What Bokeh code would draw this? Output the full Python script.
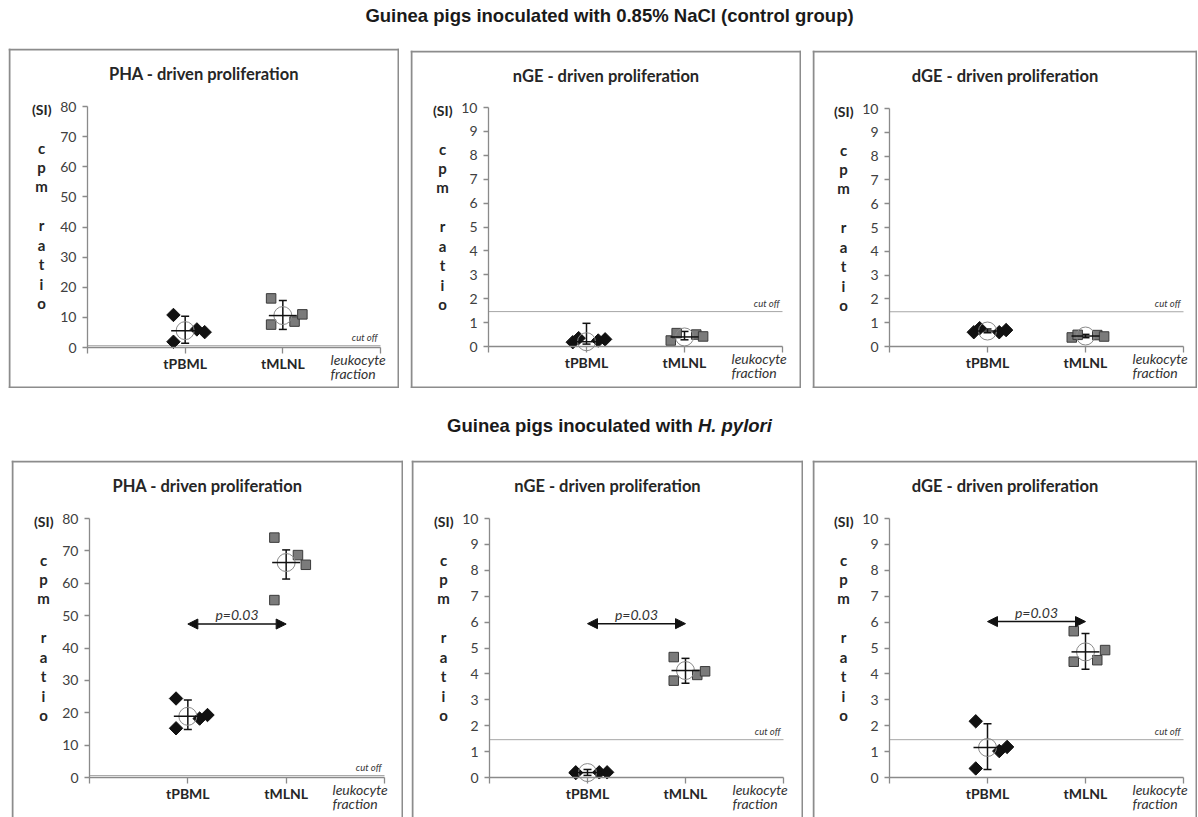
import math
from bokeh.plotting import figure
from bokeh.models import (Range1d, LinearAxis, FixedTicker, Label, Span, Whisker, TeeHead,
                          Arrow, NormalHead, ColumnDataSource)
from bokeh.layouts import column, row
from bokeh.embed import file_html
from bokeh.resources import INLINE

# ---------------- data ----------------
section_titles = ["Guinea pigs inoculated with 0.85% NaCl (control group)",
                  "Guinea pigs inoculated with", "H. pylori"]
panel_titles = ["PHA - driven proliferation", "nGE - driven proliferation", "dGE - driven proliferation"]
groups = ["tPBML", "tMLNL"]
y_max = [80, 10, 10]
y_step = [10, 1, 1]
cutoff = [0.6, 1.46, 1.46]
p_text = "p=0.03"

# control group (0.85% NaCl): individual values
ctrl_tpbml = [[10.8, 1.9, 6.0, 5.1], [0.18, 0.35, 0.25, 0.3], [0.6, 0.77, 0.6, 0.69]]
ctrl_tmlnl = [[16.3, 7.6, 8.6, 11.0], [0.25, 0.56, 0.5, 0.42], [0.38, 0.49, 0.48, 0.42]]
ctrl_mean = [[5.6, 10.6], [0.2, 0.4], [0.65, 0.44]]
ctrl_lo = [[1.4, 6.0], [0.1, 0.28], [0.58, 0.37]]
ctrl_hi = [[10.4, 15.6], [0.97, 0.63], [0.74, 0.51]]

# H. pylori group: individual values
hp_tpbml = [[24.4, 15.2, 18.2, 19.3], [0.2, 0.17, 0.2, 0.2], [2.17, 0.35, 1.02, 1.18]]
hp_tmlnl = [[74.1, 54.8, 68.7, 65.7], [4.65, 3.74, 3.96, 4.1], [5.65, 4.47, 4.53, 4.92]]
hp_mean = [[18.9, 66.4], [0.19, 4.13], [1.16, 4.85]]
hp_lo = [[14.8, 61.3], [0.08, 3.64], [0.31, 4.18]]
hp_hi = [[23.9, 70.3], [0.31, 4.6], [2.08, 5.56]]
hp_sig_y = [47.4, 5.94, 6.02]

# ---------------- style / layout ----------------
JIT_A = [-0.12, -0.12, 0.12, 0.2]
JIT_B = [-0.14, -0.08, 0.12, 0.19]
AXIS_C = "#8a8a8a"
BOX_C = "#8c8c8c"
TXT_C = "#262626"
CAL = "Lato"


def make_panel(w, h, axis_x, axis_end, y0_px, ytop_px, ti, pbml, mlnl, mean, lo, hi,
               jit, sig=None, margin=(0, 0, 0, 0), bottom_border=True):
    ymax = y_max[ti]
    kx = (axis_end - axis_x) / 3.0
    ky = (y0_px - ytop_px) / ymax
    xs = -axis_x / kx
    xe = (w - axis_x) / kx
    ye = ymax + ytop_px / ky
    ys = ye - h / ky
    X = lambda px: (px - axis_x) / kx
    Y = lambda py: ye - py / ky

    p = figure(width=w, height=h, x_range=Range1d(xs, xe), y_range=Range1d(ys, ye),
               x_axis_type=None, y_axis_type=None, toolbar_location=None,
               output_backend="svg", min_border=0, outline_line_color=None,
               margin=margin)

    # panel frame
    bw = 2
    p.add_layout(Span(location=X(1), dimension="height", line_color=BOX_C, line_width=bw))
    p.add_layout(Span(location=X(w - 1), dimension="height", line_color=BOX_C, line_width=bw))
    p.add_layout(Span(location=Y(1), dimension="width", line_color=BOX_C, line_width=bw))
    if bottom_border:
        p.add_layout(Span(location=Y(h - 1), dimension="width", line_color=BOX_C, line_width=bw))

    # axes
    yax = LinearAxis(fixed_location=0, bounds=(0, ymax),
                     ticker=FixedTicker(ticks=list(range(0, ymax + 1, y_step[ti]))),
                     axis_line_color=AXIS_C, axis_line_width=1.3,
                     major_tick_line_color=AXIS_C, major_tick_line_width=1.3,
                     major_tick_out=5, major_tick_in=0, minor_tick_line_color=None,
                     major_label_text_font=CAL, major_label_text_font_size="14px",
                     major_label_text_color="#404040", major_label_standoff=6)
    p.add_layout(yax, "left")
    xax = LinearAxis(fixed_location=0, bounds=(0, 3), ticker=FixedTicker(ticks=[0, 1, 2, 3]),
                     major_label_overrides={0: "", 1: groups[0], 2: groups[1], 3: ""},
                     axis_line_color=AXIS_C, axis_line_width=1.3,
                     major_tick_line_color=AXIS_C, major_tick_line_width=1.3,
                     major_tick_out=6, major_tick_in=0, minor_tick_line_color=None,
                     major_label_text_font=CAL, major_label_text_font_size="14px",
                     major_label_text_font_style="bold",
                     major_label_text_color=TXT_C, major_label_standoff=1)
    p.add_layout(xax, "below")

    # cut off line
    c = cutoff[ti]
    p.segment(x0=[0], y0=[c], x1=[3], y1=[c], line_color="#a6a6a6", line_width=1)
    p.add_layout(Label(x=X(axis_end - 3), y=c + 2.5 / ky, text="cut off",
                       text_align="right", text_baseline="bottom", text_font=CAL,
                       text_font_style="italic", text_font_size="9.5px", text_color="#333333"))

    # texts
    p.add_layout(Label(x=X(w / 2.0), y=Y(25), text=panel_titles[ti], text_align="center",
                       text_baseline="middle", text_font=CAL, text_font_style="bold",
                       text_font_size="16.5px", text_color=TXT_C))
    p.add_layout(Label(x=X(axis_x - 36), y=Y(ytop_px + 3), text="(SI)", text_align="right",
                       text_baseline="middle", text_font=CAL, text_font_style="bold",
                       text_font_size="14px", text_color=TXT_C))
    p.add_layout(Label(x=X(axis_x - 46), y=Y(ytop_px + 32), text="c\np\nm\n\nr\na\nt\ni\no",
                       text_align="center", text_baseline="top", text_font=CAL,
                       text_font_style="bold", text_font_size="15px", text_line_height=1.08,
                       text_color=TXT_C))
    p.add_layout(Label(x=X(axis_x + 243), y=Y(y0_px + 3), text="leukocyte\nfraction",
                       text_align="left", text_baseline="top", text_font=CAL,
                       text_font_style="italic", text_font_size="14px", text_line_height=0.88,
                       text_color="#333333"))

    # points
    xs1 = [1 + j for j in jit]
    xs2 = [2 + j for j in jit]
    p.scatter(xs1, pbml, marker="square", angle=math.pi / 4, size=9.5,
              fill_color="#111111", line_color="#111111")
    p.scatter(xs2, mlnl, marker="square", size=9.5, fill_color="#7b7b7b",
              line_color="#3a3a3a", line_width=1)

    # mean +/- error
    src = ColumnDataSource(dict(x=[1, 2], m=mean, lo=lo, hi=hi))
    p.scatter("x", "m", source=src, marker="circle", size=18, fill_color=None,
              line_color="#8a8a8a", line_width=1)
    p.scatter("x", "m", source=src, marker="dash", size=28, line_color="#111111",
              line_width=1.5)
    p.add_layout(Whisker(source=src, base="x", lower="lo", upper="hi", dimension="height",
                         line_color="#111111", line_width=1.5,
                         upper_head=TeeHead(size=8, line_color="#111111", line_width=1.5),
                         lower_head=TeeHead(size=8, line_color="#111111", line_width=1.5)))

    if sig is not None:
        p.add_layout(Arrow(x_start=1, y_start=sig, x_end=2, y_end=sig,
                           line_color="#111111", line_width=1.5,
                           start=NormalHead(size=10, fill_color="#111111", line_color="#111111"),
                           end=NormalHead(size=10, fill_color="#111111", line_color="#111111")))
        p.add_layout(Label(x=1.5, y=sig + 1.0 / ky, text=p_text, text_align="center",
                           text_baseline="bottom", text_font=CAL, text_font_style="italic",
                           text_font_size="14px", text_color="#333333"))
    return p


# section titles
FS = 18.5
W = 1198
CX = 609
t1 = figure(width=W, height=48, x_range=Range1d(0, W), y_range=Range1d(48, 0),
            x_axis_type=None, y_axis_type=None, toolbar_location=None, output_backend="svg",
            min_border=0, outline_line_color=None)
t1.add_layout(Label(x=CX, y=15, text=section_titles[0], text_align="center",
                    text_baseline="middle", text_font="Liberation Sans", text_font_style="bold",
                    text_font_size=f"{FS}px", text_color="#1a1a1a"))

t2 = figure(width=W, height=72, x_range=Range1d(0, W), y_range=Range1d(72, 0),
            x_axis_type=None, y_axis_type=None, toolbar_location=None, output_backend="svg",
            min_border=0, outline_line_color=None)
w_a = 13.281 * FS
w_sp = 0.278 * FS
w_b = 4.001 * FS
left0 = CX - (w_a + w_sp + w_b) / 2
t2.add_layout(Label(x=left0 + w_a, y=37, text=section_titles[1], text_align="right",
                    text_baseline="middle", text_font="Liberation Sans", text_font_style="bold",
                    text_font_size=f"{FS}px", text_color="#1a1a1a"))
t2.add_layout(Label(x=left0 + w_a + w_sp, y=37, text=section_titles[2], text_align="left",
                    text_baseline="middle", text_font="Liberation Sans",
                    text_font_style="bold italic", text_font_size=f"{FS}px", text_color="#1a1a1a"))

p1 = make_panel(391, 340, 79, 372, 299, 58, 0, ctrl_tpbml[0], ctrl_tmlnl[0], ctrl_mean[0],
                ctrl_lo[0], ctrl_hi[0], JIT_A, margin=(0, 0, 0, 8))
p2 = make_panel(391, 338, 78, 372, 296, 57, 1, ctrl_tpbml[1], ctrl_tmlnl[1], ctrl_mean[1],
                ctrl_lo[1], ctrl_hi[1], JIT_B, margin=(2, 0, 0, 11))
p3 = make_panel(385, 338, 77, 371, 296, 58, 2, ctrl_tpbml[2], ctrl_tmlnl[2], ctrl_mean[2],
                ctrl_lo[2], ctrl_hi[2], JIT_B, margin=(2, 0, 0, 11))

p4 = make_panel(392, 357, 78, 373, 317, 58, 0, hp_tpbml[0], hp_tmlnl[0], hp_mean[0],
                hp_lo[0], hp_hi[0], JIT_A, sig=hp_sig_y[0], margin=(0, 0, 0, 11),
                bottom_border=False)
p5 = make_panel(392, 357, 78, 372, 317, 58, 1, hp_tpbml[1], hp_tmlnl[1], hp_mean[1],
                hp_lo[1], hp_hi[1], JIT_A, sig=hp_sig_y[1], margin=(0, 0, 0, 8),
                bottom_border=False)
p6 = make_panel(385, 357, 77, 371, 317, 58, 2, hp_tpbml[2], hp_tmlnl[2], hp_mean[2],
                hp_lo[2], hp_hi[2], JIT_A, sig=hp_sig_y[2], margin=(0, 0, 0, 9),
                bottom_border=False)

layout = column(t1, row(p1, p2, p3), t2, row(p4, p5, p6))
open("out.html", "w").write(file_html(layout, INLINE))
